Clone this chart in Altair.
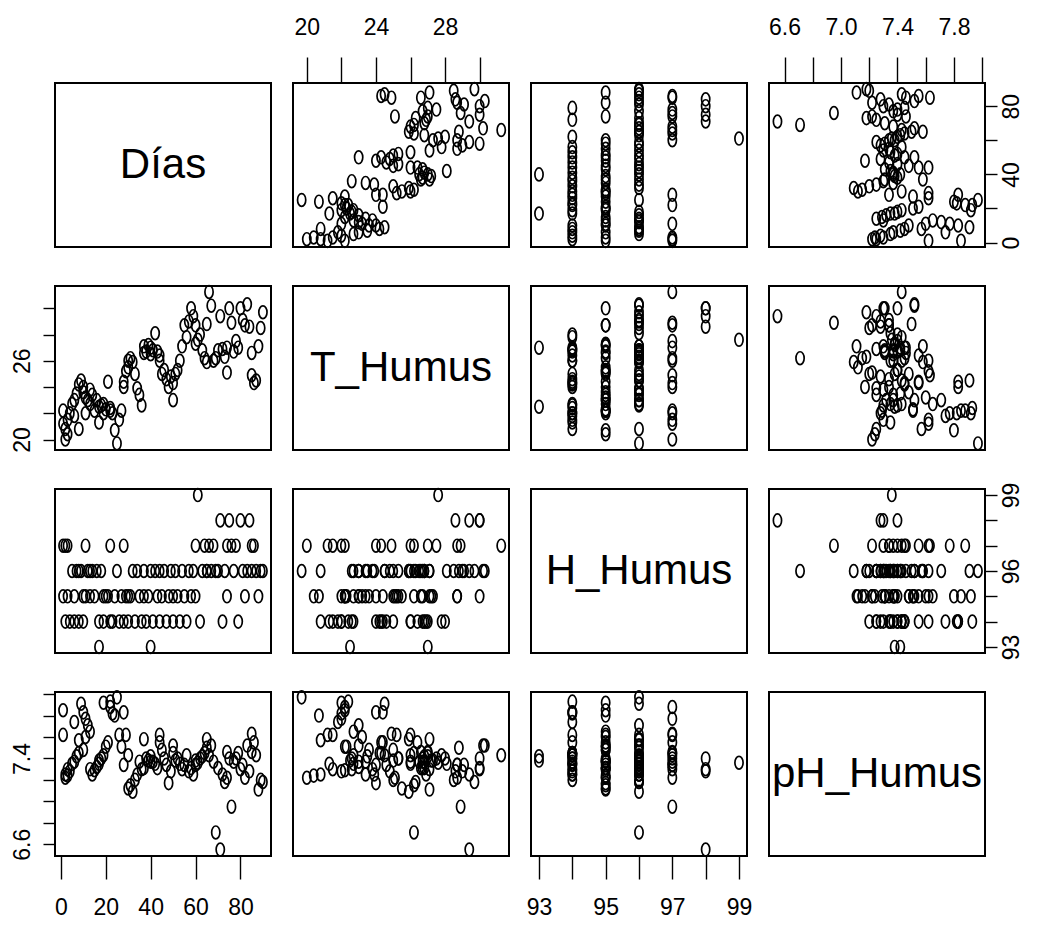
import json
import altair as alt
import pandas as pd

dias = [1, 1, 2, 2, 3, 3, 4, 5, 6, 6, 7, 8, 8, 9, 10, 10,
        11, 11, 12, 13, 13, 14, 15, 16, 17, 17, 18, 19, 19, 20,
        21, 22, 22, 23, 24, 25, 26, 27, 28, 28, 29, 30, 30,
        31, 32, 33, 34, 35, 36, 37, 37, 38, 39, 40, 40,
        41, 42, 43, 44, 44, 45, 46, 47, 48, 49, 50, 50,
        51, 52, 53, 54, 55, 56, 57, 58, 59, 60, 60,
        61, 62, 63, 64, 65, 65, 66, 67, 68, 69, 70, 71,
        72, 73, 74, 74, 75, 76, 77, 78, 79, 80,
        81, 82, 83, 84, 85, 85, 86, 87, 88, 89, 90]
t_humus = [21.2, 22.2, 20.0, 20.8, 21.5, 20.4, 22.0, 22.7, 21.8, 23.0, 23.5, 20.8, 24.2, 24.5, 24.0, 23.6,
           22.0, 23.2, 23.0, 22.7, 23.8, 23.4, 22.2, 23.0, 21.3, 22.5, 22.6, 22.0, 22.7, 22.3,
           24.4, 22.2, 22.4, 22.0, 20.7, 19.7, 21.5, 22.2, 24.4, 24.0, 25.2, 26.0, 25.5,
           26.2, 25.9, 25.0, 23.9, 23.4, 22.6, 27.1, 26.6, 26.7, 27.2, 27.0, 26.5,
           26.8, 28.1, 26.7, 26.0, 26.4, 25.0, 25.3, 24.6, 24.0, 24.8, 23.0, 24.3,
           25.0, 25.3, 26.0, 27.1, 28.7, 27.8, 29.0, 30.0, 29.4, 28.7, 27.3,
           27.6, 28.0, 26.8, 26.2, 25.9, 28.8, 31.25, 30.2, 26.0, 26.2, 26.8, 29.4,
           26.9, 26.3, 25.1, 27.0, 30.0, 28.9, 26.7, 27.5, 27.0, 30.0,
           29.1, 28.7, 30.3, 28.6, 26.6, 24.9, 24.3, 24.5, 27.1, 28.5, 29.7]
h_humus = [97, 95, 97, 94, 97, 95, 94, 96, 94, 95, 96, 96, 94, 96, 94, 95,
           97, 95, 96, 95, 96, 96, 95, 96, 94, 93, 96, 95, 94, 95,
           95, 97, 94, 94, 95, 96, 94, 95, 94, 97, 95, 94, 95,
           95, 96, 94, 96, 95, 94, 96, 95, 94, 95, 93, 96,
           94, 96, 95, 96, 94, 95, 96, 94, 95, 96, 95, 94,
           96, 95, 94, 96, 95, 94, 96, 95, 96, 97, 95,
           99, 94, 96, 97, 96, 96, 97, 96, 97, 96, 96, 98,
           94, 96, 95, 97, 98, 97, 96, 97, 94, 98,
           96, 95, 96, 98, 96, 97, 97, 96, 95, 96, 96]
ph_humus = [7.62, 7.85, 7.22, 7.25, 7.30, 7.24, 7.28, 7.35, 7.74, 7.37, 7.42, 7.57, 7.45, 7.91, 7.83, 7.48,
            7.77, 7.60, 7.71, 7.65, 7.30, 7.25, 7.29, 7.32, 7.35, 7.38, 7.40, 7.92, 7.43, 7.51,
            7.55, 7.88, 7.93, 7.82, 7.80, 7.97, 7.62, 7.51, 7.83, 7.34, 7.62, 7.43, 7.12,
            7.15, 7.09, 7.20, 7.25, 7.37, 7.30, 7.58, 7.31, 7.40, 7.38, 7.42, 7.37,
            7.37, 7.35, 7.31, 7.62, 7.55, 7.48, 7.40, 7.34, 7.17, 7.28, 7.52, 7.45,
            7.38, 7.40, 7.35, 7.30, 7.34, 7.43, 7.28, 7.31, 7.25, 7.34, 7.38,
            7.36, 7.40, 7.42, 7.45, 7.58, 7.50, 7.43, 7.52, 7.37, 6.71, 7.31, 6.55,
            7.25, 7.18, 7.22, 7.46, 7.40, 6.95, 7.37, 7.40, 7.45, 7.30,
            7.34, 7.22, 7.52, 7.28, 7.46, 7.63, 7.55, 7.43, 7.11, 7.20, 7.18]

variables = ["Días", "T_Humus", "H_Humus", "pH_Humus"]
domains = {"Días": [-2.6, 93.6], "T_Humus": [19.2, 31.7],
           "H_Humus": [92.76, 99.24], "pH_Humus": [6.49, 8.02]}
tick_values = {"Días": [0, 20, 40, 60, 80],
               "T_Humus": [20, 22, 24, 26, 28, 30],
               "H_Humus": [93, 94, 95, 96, 97, 98, 99],
               "pH_Humus": [6.6, 6.8, 7.0, 7.2, 7.4, 7.6, 7.8, 8.0]}
labels_horiz = {"Días": ["0", "20", "40", "60", "80"], "T_Humus": ["20", "24", "28"],
                "H_Humus": ["93", "95", "97", "99"], "pH_Humus": ["6.6", "7.0", "7.4", "7.8"]}
labels_vert = {"Días": ["0", "40", "80"], "T_Humus": ["20", "26"],
               "H_Humus": ["93", "96", "99"], "pH_Humus": ["6.6", "7.4"]}
formats = {"Días": "d", "T_Humus": "d", "H_Humus": "d", "pH_Humus": ".1f"}

df = pd.DataFrame({"Días": dias, "T_Humus": t_humus, "H_Humus": h_humus, "pH_Humus": ph_humus})

FONT = "Liberation Sans"
W, H = 216, 164
ELLIPSE = "M -0.64 0 A 0.64 1 0 1 1 0.64 0 A 0.64 1 0 1 1 -0.64 0 Z"


def make_axis(var, orient):
    shown = labels_horiz[var] if orient in ("top", "bottom") else labels_vert[var]
    fmt = formats[var]
    expr = (f"indexof({json.dumps(shown)}, format(datum.value, '{fmt}')) >= 0 "
            f"? format(datum.value, '{fmt}') : ''")
    kw = dict(values=tick_values[var], labelExpr=expr, title=None, orient=orient,
              domain=False, grid=False, ticks=True, labelOverlap=False, labelFlush=False,
              tickColor="black", tickWidth=1.4, labelColor="black", labelFont=FONT,
              labelFontSize=23)
    if orient == "top":
        kw.update(tickSize=26, labelPadding=18, labelAngle=0)
    elif orient == "bottom":
        kw.update(tickSize=23, labelPadding=17, labelAngle=0)
    elif orient == "left":
        kw.update(tickSize=12, labelPadding=9, labelAngle=270,
                  labelAlign="center", labelBaseline="bottom")
    else:
        kw.update(tickSize=12, labelPadding=3, labelAngle=270,
                  labelAlign="center", labelBaseline="top")
    return alt.Axis(**kw)


def panel(i, j):
    if i == j:
        return alt.Chart(pd.DataFrame({"label": [variables[i]]})).mark_text(
            font=FONT, fontSize=42, color="black", align="center", baseline="middle"
        ).encode(text="label:N", x=alt.value(W / 2), y=alt.value(H / 2)).properties(
            width=W, height=H)
    xv, yv = variables[j], variables[i]
    xaxis = None
    if i == 0 and j in (1, 3):
        xaxis = make_axis(xv, "top")
    elif i == 3 and j in (0, 2):
        xaxis = make_axis(xv, "bottom")
    yaxis = None
    if j == 0 and i in (1, 3):
        yaxis = make_axis(yv, "left")
    elif j == 3 and i in (0, 2):
        yaxis = make_axis(yv, "right")
    return alt.Chart(df).mark_point(
        shape=ELLIPSE, size=165, filled=False, color="black", strokeWidth=1.7, opacity=1
    ).encode(
        x=alt.X(f"{xv}:Q", scale=alt.Scale(domain=domains[xv], nice=False, zero=False), axis=xaxis),
        y=alt.Y(f"{yv}:Q", scale=alt.Scale(domain=domains[yv], nice=False, zero=False), axis=yaxis),
    ).properties(width=W, height=H)


panels = [panel(i, j) for i in range(4) for j in range(4)]

chart = alt.concat(
    *panels, columns=4, spacing={"row": 39, "column": 22}, bounds="flush"
).properties(
    padding={"left": 2, "top": 7, "right": 4, "bottom": 2},
    background="white"
).configure_view(
    stroke="black", strokeWidth=2
)

chart.save("out.html", embed_options={"renderer": "svg", "actions": False})
